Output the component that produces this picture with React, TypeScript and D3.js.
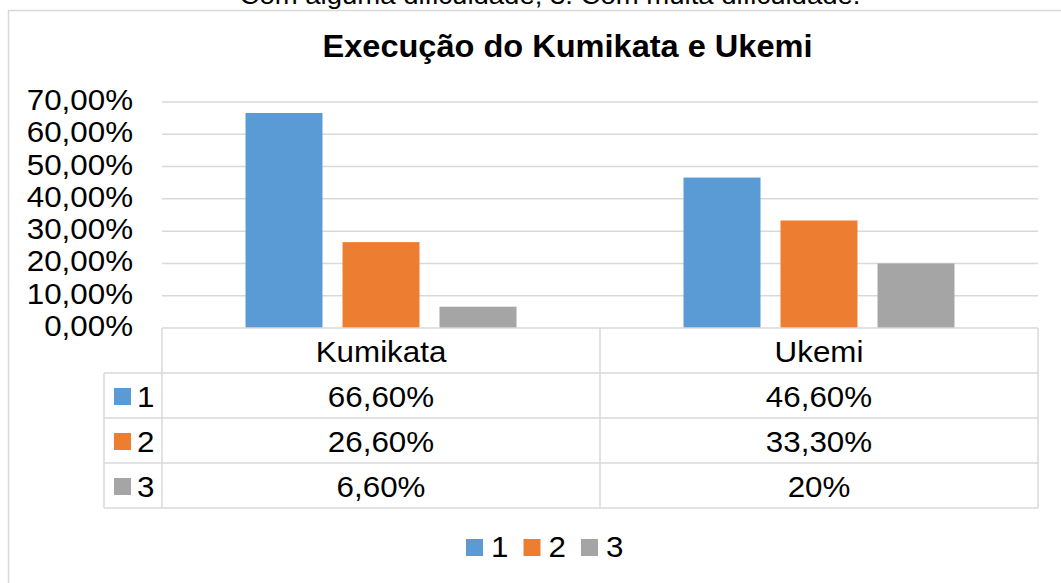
import React from "react";
import * as d3 from "d3";

const categories = ["Kumikata", "Ukemi"];
const seriesNames = ["1", "2", "3"];
const seriesValues = [
  [0.666, 0.466],
  [0.266, 0.333],
  [0.066, 0.2],
];
const tableLabels = [
  ["66,60%", "46,60%"],
  ["26,60%", "33,30%"],
  ["6,60%", "20%"],
];
const yTicks = [0, 0.1, 0.2, 0.3, 0.4, 0.5, 0.6, 0.7];
const colors = ["#5B9BD5", "#ED7D31", "#A5A5A5"];
const title = "Execução do Kumikata e Ukemi";
const topNote = "Com alguma dificuldade; 3. Com muita dificuldade.";

const W = 1061;
const H = 583;
const FONT = "'Liberation Sans', Arial, sans-serif";
const SX = 1.045;
const GRID = "#d9d9d9";

function T({ x, y, children, anchor = "middle", size = 30, weight = "normal", sx = SX }: any) {
  return (
    <text
      transform={`translate(${x},${y}) scale(${sx},1)`}
      textAnchor={anchor}
      fontSize={size}
      fontWeight={weight}
      fontFamily={FONT}
      fill="#000"
    >
      {children}
    </text>
  );
}

export default function App() {
  const plotLeft = 162;
  const plotRight = 1038;
  const plotTop = 102;
  const plotBottom = 328;
  const tableLeft = 104;
  const rowH = 45;

  const y = d3.scaleLinear().domain([0, 0.7]).range([plotBottom, plotTop]);
  const x0 = d3.scaleBand<string>().domain(categories).range([plotLeft, plotRight]).padding(0);
  const groupW = 271;
  const x1 = d3
    .scaleBand<string>()
    .domain(seriesNames)
    .range([0, groupW])
    .paddingInner(20 / 97)
    .paddingOuter(0);

  const rowTops = [plotBottom, plotBottom + rowH, plotBottom + 2 * rowH, plotBottom + 3 * rowH, plotBottom + 4 * rowH];

  return (
    <svg
      width={W}
      height={H}
      style={{ position: "absolute", left: 0, top: 0, display: "block", background: "#fff" }}
    >
      <rect x={0} y={0} width={W} height={H} fill="#fff" />
      <T x={550} y={4} size={25.5} sx={1.08}>{topNote}</T>
      <rect x={8.5} y={10.5} width={1200} height={700} fill="none" stroke={GRID} strokeWidth={1.5} />
      <T x={567.5} y={57} size={31} weight="bold" sx={1.05}>{title}</T>

      {yTicks.map((t) =>
        t > 0 ? (
          <line key={"g" + t} x1={plotLeft} x2={plotRight} y1={y(t)} y2={y(t)} stroke={GRID} strokeWidth={1.5} />
        ) : null
      )}
      {yTicks.map((t) => (
        <T key={"l" + t} x={133} y={y(t) + 8} anchor="end">
          {d3.format(".2f")(t * 100).replace(".", ",") + "%"}
        </T>
      ))}

      {categories.map((c, ci) => (
        <g key={c} transform={`translate(${(x0(c) as number) + (x0.bandwidth() - groupW) / 2},0)`}>
          {seriesNames.map((s, si) => (
            <rect
              key={s}
              x={x1(s)}
              width={x1.bandwidth()}
              y={y(seriesValues[si][ci])}
              height={plotBottom - y(seriesValues[si][ci])}
              fill={colors[si]}
            />
          ))}
        </g>
      ))}

      {/* data table */}
      <g stroke={GRID} strokeWidth={1.5} fill="none">
        <line x1={plotLeft} x2={plotRight} y1={rowTops[0]} y2={rowTops[0]} />
        {rowTops.slice(1).map((ry, i) => (
          <line key={i} x1={tableLeft} x2={plotRight} y1={ry} y2={ry} />
        ))}
        <line x1={tableLeft} x2={tableLeft} y1={rowTops[1]} y2={rowTops[4]} />
        <line x1={plotLeft} x2={plotLeft} y1={rowTops[0]} y2={rowTops[4]} />
        <line x1={x0(categories[1])} x2={x0(categories[1])} y1={rowTops[0]} y2={rowTops[4]} />
        <line x1={plotRight} x2={plotRight} y1={rowTops[0]} y2={rowTops[4]} />
      </g>
      {categories.map((c) => (
        <T key={"h" + c} x={(x0(c) as number) + x0.bandwidth() / 2} y={rowTops[0] + rowH / 2 + 11.5}>
          {c}
        </T>
      ))}
      {seriesNames.map((s, si) => (
        <g key={"r" + s}>
          <rect x={114} y={rowTops[si + 1] + 15} width={17} height={17} fill={colors[si]} />
          <T x={137} y={rowTops[si + 1] + rowH / 2 + 11.5} anchor="start">{s}</T>
          {categories.map((c, ci) => (
            <T key={c} x={(x0(c) as number) + x0.bandwidth() / 2} y={rowTops[si + 1] + rowH / 2 + 11.5}>
              {tableLabels[si][ci]}
            </T>
          ))}
        </g>
      ))}

      {/* legend */}
      {seriesNames.map((s, si) => (
        <g key={"lg" + s} transform={`translate(${466 + si * 57.5},0)`}>
          <rect x={0} y={539} width={17} height={17} fill={colors[si]} />
          <T x={25} y={557} anchor="start">{s}</T>
        </g>
      ))}
    </svg>
  );
}
